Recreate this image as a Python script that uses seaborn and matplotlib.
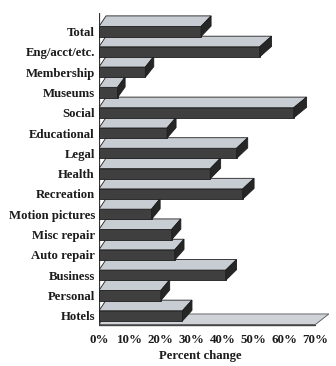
import matplotlib
matplotlib.use("Agg")
import matplotlib.pyplot as plt
from matplotlib.patches import Polygon
import seaborn as sns
import pandas as pd

categories = ["Total", "Eng/acct/etc.", "Membership", "Museums", "Social",
              "Educational", "Legal", "Health", "Recreation", "Motion pictures",
              "Misc repair", "Auto repair", "Business", "Personal", "Hotels"]
pct_change = [33, 52, 15, 6, 63, 22, 44.5, 36, 46.5, 17, 23.5, 24.5, 41, 20, 27]
tick_values = [0, 10, 20, 30, 40, 50, 60, 70]
tick_labels = ["0%", "10%", "20%", "30%", "40%", "50%", "60%", "70%"]

df = pd.DataFrame({"category": categories, "change": pct_change})

FRONT = "#3f3f3f"
SIDE = "#262626"
TOP = "#c8ccd3"
FLOOR = "#cfd2d7"
EDGE = "#1e1e1e"
TEXT = "#1c1c1c"

sns.set_style("white")
plt.rcParams["font.family"] = ["Liberation Serif", "DejaVu Serif"]
plt.rcParams["font.weight"] = "bold"

fig = plt.figure(figsize=(3.36, 3.66), dpi=100)
ax = fig.add_axes([99 / 336, 1 - 330 / 366, 230 / 336, 320 / 366])

bar_h = 0.5
sns.barplot(data=df, x="change", y="category", orient="h", color=FRONT,
            width=bar_h, edgecolor=EDGE, linewidth=0.6, saturation=1, ax=ax)

# oblique depth of the 3-D bars (slight perspective to the right)
DY = 0.52


def back_x(x):
    return 2.27 + 1.03 * x


n = len(categories)
for i, (patch, v) in enumerate(zip(ax.patches, pct_change)):
    z = 10 + (n - i) * 3
    patch.set_zorder(z)
    top = i - bar_h / 2
    bot = i + bar_h / 2
    top_face = Polygon([(0, top), (v, top), (back_x(v), top - DY), (back_x(0), top - DY)],
                       closed=True, facecolor=TOP, edgecolor=EDGE, linewidth=0.6, zorder=z + 1)
    side_face = Polygon([(v, top), (back_x(v), top - DY), (back_x(v), bot - DY), (v, bot)],
                        closed=True, facecolor=SIDE, edgecolor=EDGE, linewidth=0.6, zorder=z + 1)
    ax.add_patch(top_face)
    ax.add_patch(side_face)

# floor under the bars
floor_front = n - 1 + bar_h / 2 + 0.18
floor = Polygon([(0, floor_front), (70, floor_front), (back_x(70), floor_front - DY),
                 (back_x(0), floor_front - DY)],
                closed=True, facecolor=FLOOR, edgecolor="#555555", linewidth=0.6, zorder=2)
ax.add_patch(floor)
ax.plot([0, 70], [floor_front, floor_front], color="#444444", lw=1.0, zorder=3)

# left wall edge
ax.plot([0, 0], [-0.9, floor_front], color="#333333", lw=0.9, zorder=4)

ax.set_xlim(0, 74.4)
ax.set_ylim(14.70, -1.06)
ax.set_xticks(tick_values)
ax.set_xticklabels(tick_labels, fontsize=9.3, fontweight="bold", color=TEXT)
ax.tick_params(axis="x", length=0, pad=3)
ax.tick_params(axis="y", length=0, pad=3)
for lab in ax.get_yticklabels():
    lab.set_fontsize(9.2)
    lab.set_fontweight("bold")
    lab.set_color(TEXT)
ax.set_ylabel("")
ax.set_xlabel("Percent change", fontsize=9.2, fontweight="bold", color=TEXT)
ax.xaxis.set_label_coords((200 - 99) / 230, -0.062)
for s in ax.spines.values():
    s.set_visible(False)

fig.savefig("out.png", dpi=100)
